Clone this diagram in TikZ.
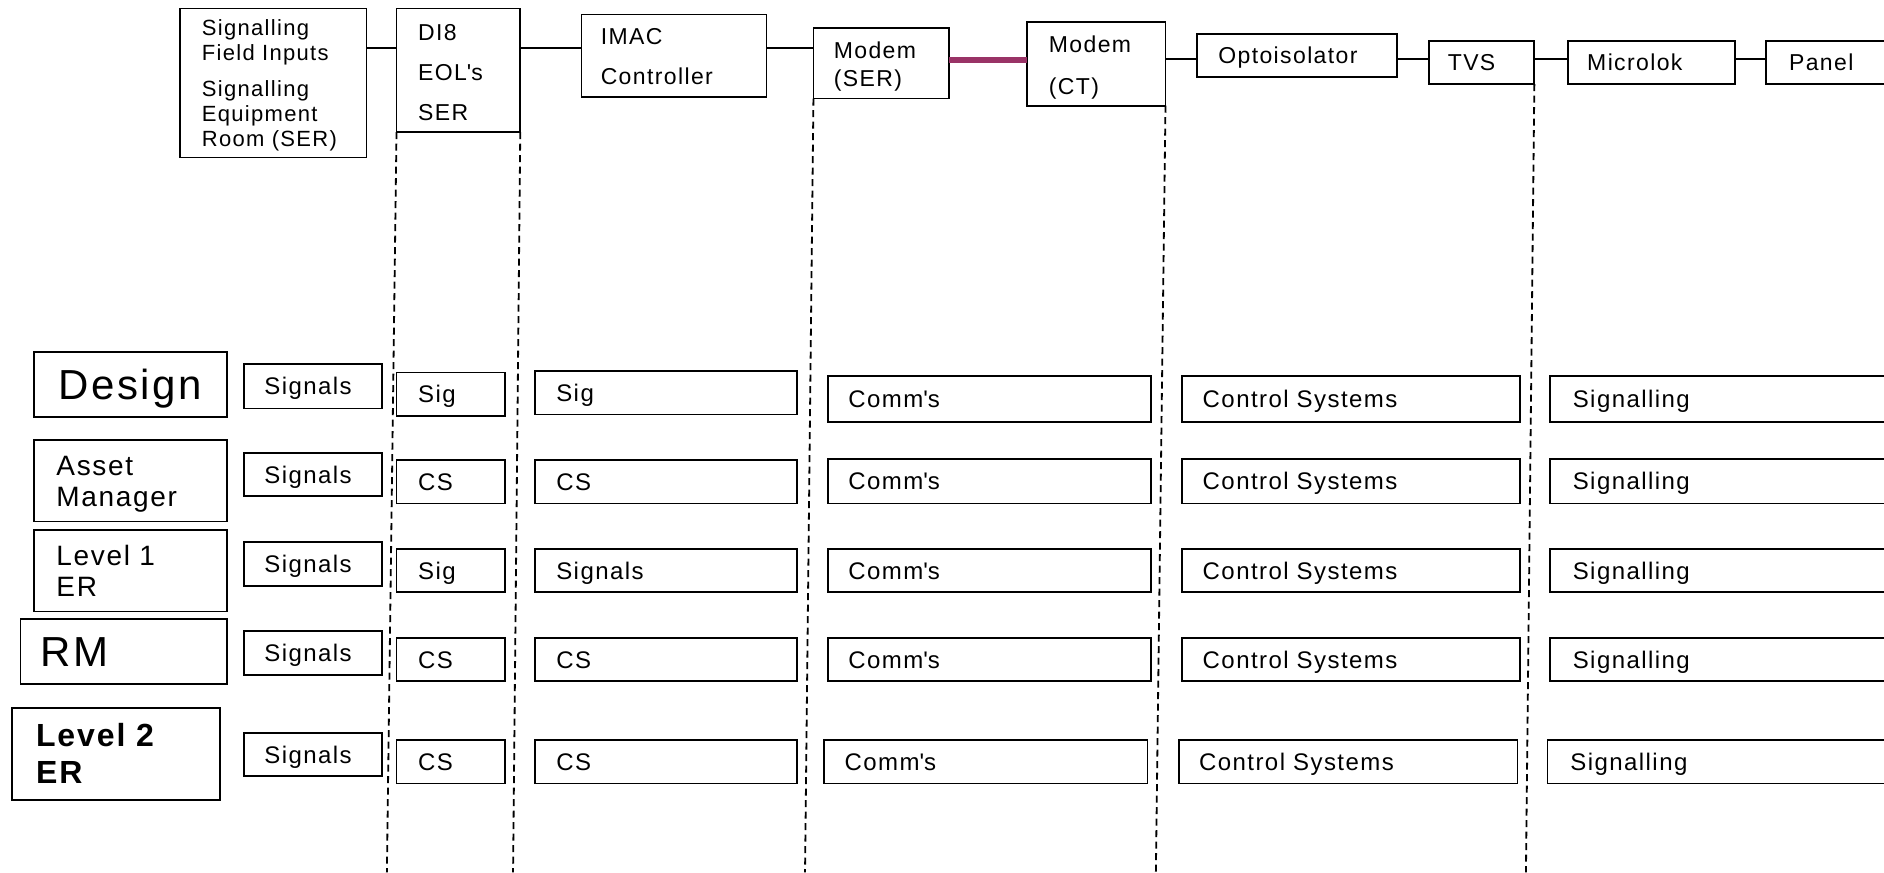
\documentclass[tikz,border=0pt]{standalone}
\usepackage{fontspec}
\setmainfont{Liberation Sans}[LetterSpace=6]
\hyphenpenalty=10000
\exhyphenpenalty=10000
\newdimen\px \px=1.2015pt
\definecolor{linkplum}{RGB}{153,51,102}
\tikzset{
  inset/.store in=\cellInset, inset=17,
  % place a box by its corners (x1/y1/x2/y2), text inset from the left edge
  cellat/.code args={#1/#2/#3/#4}{%
    \pgfmathsetlengthmacro\boxW{(#3-#1)*\px}%
    \pgfmathsetlengthmacro\boxH{(#4-#2)*\px}%
    \pgfmathsetlengthmacro\boxT{(#3-#1-2*\cellInset)*\px}%
    \pgfmathsetmacro\boxX{(#1+#3)/2}%
    \pgfmathsetmacro\boxY{(#2+#4)/2}%
    \pgfkeysalso{/tikz/minimum width=\boxW, /tikz/minimum height=\boxH,
      /tikz/text width=\boxT, /tikz/at={(\boxX,\boxY)}}%
  },
  cell/.style={draw, fill=white, line width=1.8pt, inner sep=0pt, outer sep=0pt, align=left},
  toptext/.style={font=\fontsize{23pt}{28pt}\selectfont, text height=16.5pt, text depth=0pt},
  gridtext/.style={font=\fontsize{24pt}{28pt}\selectfont, text height=17.2pt, text depth=0pt},
  bigtext/.style={font=\fontsize{42pt}{48pt}\selectfont, text height=30pt, text depth=0pt},
  link/.style={line width=1.8pt},
  radiolink/.style={line width=5.5pt, draw=linkplum},
  sepline/.style={line width=1.8pt, dash pattern=on 7pt off 4.5pt},
}
\begin{document}
\begin{tikzpicture}[x=1.2015pt, y=-1.2015pt]
\useasboundingbox (0,0) rectangle (1568,726);
\fill[white] (0,0) rectangle (1568,726);
\clip (0,0) rectangle (1568,726);

% ---- signal chain across the top ----
\node[cell, inset=18, cellat=150/7/305/131, font=\fontsize{22pt}{25pt}\selectfont,
      text height=15.75pt, text depth=111pt] (sfi)
  {Signalling\\Field~Inputs\\[11pt]Signalling\\Equipment\\Room~(SER)};
\node[cell, inset=18, cellat=330/7/433/110, font=\fontsize{23pt}{40pt}\selectfont,
      text height=21.3pt, text depth=80pt] (di8)
  {DI8\\EOL\textquotesingle s\\SER};
\node[cell, inset=16, cellat=484/12/638/81, font=\fontsize{23pt}{40pt}\selectfont,
      text height=16.5pt, text depth=40pt] (imac)
  {IMAC\\Controller};
\node[cell, cellat=677/23/790/82, font=\fontsize{23pt}{28pt}\selectfont,
      text height=18.9pt, text depth=28pt] (mser)
  {Modem\\(SER)};
\node[cell, inset=18, cellat=855/18/970/88, font=\fontsize{23pt}{42pt}\selectfont,
      text height=18.9pt, text depth=42pt] (mct)
  {Modem\\(CT)};
\node[cell, toptext, inset=18, cellat=996/28/1163/64] (opto) {Optoisolator};
\node[cell, toptext, inset=16, cellat=1189/34/1277/70] (tvs) {TVS};
\node[cell, toptext, inset=16, cellat=1305/34/1444/70] (mlok) {Microlok};
\node[cell, toptext, inset=19, cellat=1470/34/1640/70] (panel) {Panel};

\coordinate (railA) at (0,40);
\coordinate (railB) at (0,50);
\coordinate (railC) at (0,49);
\draw[link] (sfi.east |- railA) -- (di8.west |- railA);
\draw[link] (di8.east |- railA) -- (imac.west |- railA);
\draw[link] (imac.east |- railA) -- (mser.west |- railA);
\draw[radiolink] (mser.east |- railB) -- (mct.west |- railB);
\draw[link] (mct.east |- railC) -- (opto.west |- railC);
\draw[link] (opto.east |- railC) -- (tvs.west |- railC);
\draw[link] (tvs.east |- railC) -- (mlok.west |- railC);
\draw[link] (mlok.east |- railC) -- (panel.west |- railC);

% ---- dashed boundaries dropping from the chain ----
\coordinate (s1) at (322,726);
\coordinate (s2) at (427,726);
\coordinate (s3) at (670,726);
\coordinate (s4) at (962,726);
\coordinate (s5) at (1270,726);
\draw[sepline] (di8.south west) -- (s1);
\draw[sepline] (di8.south east) -- (s2);
\draw[sepline] (mser.south west) -- (s3);
\draw[sepline] (mct.south east) -- (s4);
\draw[sepline] (tvs.south east) -- (s5);

% ---- row headings ----
\node[cell, bigtext, cellat=28/293/189/347, align=center] (design) {Design};
\node[cell, inset=19, cellat=28/366/189/434, font=\fontsize{28pt}{31pt}\selectfont,
      text height=21.4pt, text depth=31pt] (asset) {Asset\\Manager};
\node[cell, inset=19, cellat=28/441/189/509, font=\fontsize{28pt}{31pt}\selectfont,
      text height=20pt, text depth=31pt] (lvlone) {Level~1\\ER};
\node[cell, bigtext, cellat=17/515/189/569] (rm) {RM};
\node[cell, inset=20, cellat=10/589/183/666, font=\bfseries\fontsize{32pt}{37pt}\selectfont,
      text height=22.9pt, text depth=37pt] (lvltwo) {Level~2\\ER};

% ---- responsibility grid ----
\foreach \i/\ya/\yb in {1/303/340, 2/377/413, 3/451/488, 4/525/562, 5/610/646}
  \node[cell, gridtext, cellat=203/\ya/318/\yb] (field\i) {Signals};
\foreach \i/\ya/\yb/\txt in {1/310/346/Sig, 2/383/419/CS, 3/457/493/Sig, 4/531/567/CS, 5/616/652/CS}
  \node[cell, gridtext, inset=18, cellat=330/\ya/420/\yb] (eol\i) {\txt};
\foreach \i/\ya/\yb/\txt in {1/309/345/Sig, 2/383/419/CS, 3/457/493/Signals, 4/531/567/CS, 5/616/652/CS}
  \node[cell, gridtext, inset=18, cellat=445/\ya/663/\yb] (ctl\i) {\txt};
\foreach \i/\xa/\ya/\xb/\yb in {1/689/313/958/351, 2/689/382/958/419, 3/689/457/958/493, 4/689/531/958/567, 5/686/616/955/652}
  \node[cell, gridtext, cellat=\xa/\ya/\xb/\yb] (comms\i) {Comm\textquotesingle s};
\foreach \i/\xa/\ya/\xb/\yb in {1/984/313/1265/351, 2/984/382/1265/419, 3/984/457/1265/493, 4/984/531/1265/567, 5/981/616/1263/652}
  \node[cell, gridtext, cellat=\xa/\ya/\xb/\yb] (csys\i) {Control~Systems};
\foreach \i/\xa/\ya/\yb in {1/1290/313/351, 2/1290/382/419, 3/1290/457/493, 4/1290/531/567, 5/1288/616/652}
  \node[cell, gridtext, inset=19, cellat=\xa/\ya/1640/\yb] (sigg\i) {Signalling};
\end{tikzpicture}
\end{document}
